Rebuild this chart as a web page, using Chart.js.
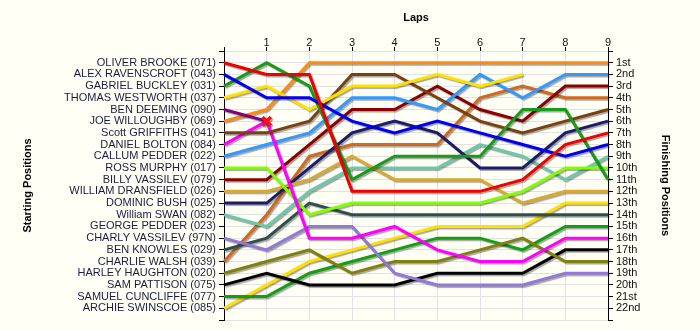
<!DOCTYPE html>
<html lang="en">
<head>
<meta charset="UTF-8">
<title>Lap Chart</title>
<script src="https://cdn.jsdelivr.net/npm/chart.js@4.4.1/dist/chart.umd.min.js"></script>
<style>
    html, body { margin: 0; padding: 0; background: #fffff5; }
    #wrap { width: 700px; height: 330px; }
</style>
</head>
<body>
<div id="wrap"><canvas id="lapChart" width="700" height="330"></canvas></div>
<script>
const laps = [0, 1, 2, 3, 4, 5, 6, 7, 8, 9];

const drivers = [
    'OLIVER BROOKE (071)', 'ALEX RAVENSCROFT (043)', 'GABRIEL BUCKLEY (031)',
    'THOMAS WESTWORTH (037)', 'BEN DEEMING (090)', 'JOE WILLOUGHBY (069)',
    'Scott GRIFFITHS (041)', 'DANIEL BOLTON (084)', 'CALLUM PEDDER (022)',
    'ROSS MURPHY (017)', 'BILLY VASSILEV (079)', 'WILLIAM DRANSFIELD (026)',
    'DOMINIC BUSH (025)', 'William SWAN (082)', 'GEORGE PEDDER (023)',
    'CHARLY VASSILEV (97N)', 'BEN KNOWLES (029)', 'CHARLIE WALSH (039)',
    'HARLEY HAUGHTON (020)', 'SAM PATTISON (075)', 'SAMUEL CUNCLIFFE (077)',
    'ARCHIE SWINSCOE (085)'
];

const finishLabels = [
    '1st', '2nd', '3rd', '4th', '5th', '6th', '7th', '8th', '9th', '10th', '11th',
    '12th', '13th', '14th', '15th', '16th', '17th', '18th', '19th', '20th', '21st', '22nd'
];

// running position at the end of each lap (lap 0 = grid slot), null = not running
const oliverBrooke      = [1, 2, 2, 12, 12, 12, 12, 11, 8, 7];
const alexRavenscroft   = [2, 4, 4, 6, 7, 6, 7, 8, 9, 8];
const gabrielBuckley    = [3, 1, 3, 11, 9, 9, 9, 5, 5, 11];
const thomasWestworth   = [4, 3, 5, 3, 3, 2, 3, 2, null, null];
const benDeeming        = [5, 6, null, null, null, null, null, null, null, null];
const joeWilloughby     = [6, 5, 1, 1, 1, 1, 1, 1, 1, 1];
const scottGriffiths    = [7, 7, 6, 2, 2, 4, 6, 7, 6, 5];
const danielBolton      = [8, 6, 16, 16, 15, 17, 18, 18, 16, 16];
const callumPedder      = [9, 8, 7, 4, 4, 5, 2, 4, 2, 2];
const rossMurphy        = [10, 10, 14, 13, 13, 13, 13, 12, 10, 10];
const billyVassilev     = [11, 11, 8, 5, 5, 3, 5, 6, 3, 3];
const williamDransfield = [12, 12, 11, 9, 11, 11, 11, 13, 12, 12];
const dominicBush       = [13, 13, 10, 7, 6, 7, 10, 10, 7, 6];
const williamSwan       = [14, 15, 12, 10, 10, 10, 8, 9, 11, 9];
const georgePedder      = [null, null, null, null, null, null, null, null, null, null];
const charlyVassilev    = [16, 17, 15, 15, 19, 20, 20, 20, 19, 19];
const benKnowles        = [17, 16, 13, 14, 14, 14, 14, 14, 14, 14];
const charlieWalsh      = [18, 14, 9, 8, 8, 8, 4, 3, 4, 4];
const harleyHaughton    = [19, 18, 17, 19, 18, 18, 17, 16, 18, 18];
const samPattison       = [20, 19, 20, 20, 20, 19, 19, 19, 17, 17];
const samuelCuncliffe   = [21, 21, 19, 18, 17, 16, 16, 17, 15, 15];
const archieSwinscoe    = [22, 20, 18, 17, 16, 15, 15, 15, 13, 13];

const runs = [
    oliverBrooke, alexRavenscroft, gabrielBuckley, thomasWestworth, benDeeming,
    joeWilloughby, scottGriffiths, danielBolton, callumPedder, rossMurphy,
    billyVassilev, williamDransfield, dominicBush, williamSwan, georgePedder,
    charlyVassilev, benKnowles, charlieWalsh, harleyHaughton, samPattison,
    samuelCuncliffe, archieSwinscoe
];

// lap on which a car retired (marked with a cross)
const retiredOnLap = { 'BEN DEEMING (090)': 1 };

const lineColors = [
    '#f00000', '#0000f0', '#1a9a1a', '#ffe000', '#800080', '#ff8a10',
    '#7a4010', '#ff00ff', '#3399ff', '#80ff00', '#8b0000', '#d8a830',
    '#1c1c6c', '#6cc8a8', '#999999', '#9477d8', '#2f4f4f', '#d2691e',
    '#808010', '#000000', '#10a010', '#ffe000'
];

const FONT = "'Liberation Sans', Arial, sans-serif";

// soft drop shadow under every line
const lineShadow = {
    id: 'lineShadow',
    beforeDatasetsDraw(chart) {
        const c = chart.ctx;
        c.save();
        c.shadowColor = 'rgba(0,0,0,0.35)';
        c.shadowOffsetX = 1.5;
        c.shadowOffsetY = 1.5;
        c.shadowBlur = 1;
    },
    afterDatasetsDraw(chart) {
        chart.ctx.restore();
    }
};

const datasets = drivers.map((name, i) => {
    const retired = retiredOnLap[name];
    return {
        label: name,
        data: laps.map((lap, j) => ({ x: lap, y: runs[i][j] })),
        borderColor: lineColors[i],
        backgroundColor: lineColors[i],
        borderWidth: 3,
        tension: 0,
        spanGaps: false,
        pointStyle: 'crossRot',
        pointRadius: ctx => (retired !== undefined && ctx.dataIndex === retired ? 6 : 0),
        pointBorderColor: '#ff1010',
        pointBorderWidth: 3.5,
        clip: 6
    };
});

new Chart(document.getElementById('lapChart'), {
    type: 'line',
    data: { datasets: datasets },
    plugins: [lineShadow],
    options: {
        responsive: false,
        animation: false,
        layout: { padding: { left: 0, right: 0, top: 0, bottom: 10 } },
        plugins: {
            legend: { display: false },
            tooltip: { enabled: false }
        },
        scales: {
            x: {
                type: 'linear',
                position: 'top',
                min: 0,
                max: 9,
                afterFit: s => { s.height = 51; },
                border: { display: false },
                grid: { color: '#e2e2e2', tickColor: '#000', tickLength: 4 },
                ticks: {
                    stepSize: 1,
                    padding: -3,
                    color: '#111',
                    font: { family: FONT, size: 11 },
                    callback: v => (v === 0 ? '' : v)
                },
                title: {
                    display: true,
                    text: 'Laps',
                    color: '#000',
                    font: { family: FONT, size: 11, weight: 'bold' },
                    padding: { top: 11, bottom: 0 }
                }
            },
            y: {
                type: 'linear',
                position: 'left',
                min: 0,
                max: 23,
                reverse: true,
                afterFit: s => { s.width = 224; },
                border: { color: '#000', width: 1 },
                grid: { color: '#e2e2e2', tickColor: '#000', tickLength: 5 },
                ticks: {
                    stepSize: 1,
                    autoSkip: false,
                    padding: 3,
                    color: '#1c1c3c',
                    font: { family: FONT, size: 11 },
                    callback: v => drivers[v - 1] || ''
                },
                title: {
                    display: true,
                    text: 'Starting Positions',
                    color: '#000',
                    font: { family: FONT, size: 11, weight: 'bold' },
                    padding: { top: 21, bottom: 0 }
                }
            },
            yRight: {
                type: 'linear',
                position: 'right',
                min: 0,
                max: 23,
                reverse: true,
                afterFit: s => { s.width = 92; },
                border: { color: '#000', width: 1 },
                grid: { drawOnChartArea: false, tickColor: '#000', tickLength: 5 },
                ticks: {
                    stepSize: 1,
                    autoSkip: false,
                    padding: 3,
                    color: '#111',
                    font: { family: FONT, size: 11 },
                    callback: v => finishLabels[v - 1] || ''
                },
                title: {
                    display: true,
                    text: 'Finishing Positions',
                    color: '#000',
                    font: { family: FONT, size: 11, weight: 'bold' },
                    padding: { top: 28, bottom: 0 }
                }
            }
        }
    }
});
</script>
</body>
</html>
